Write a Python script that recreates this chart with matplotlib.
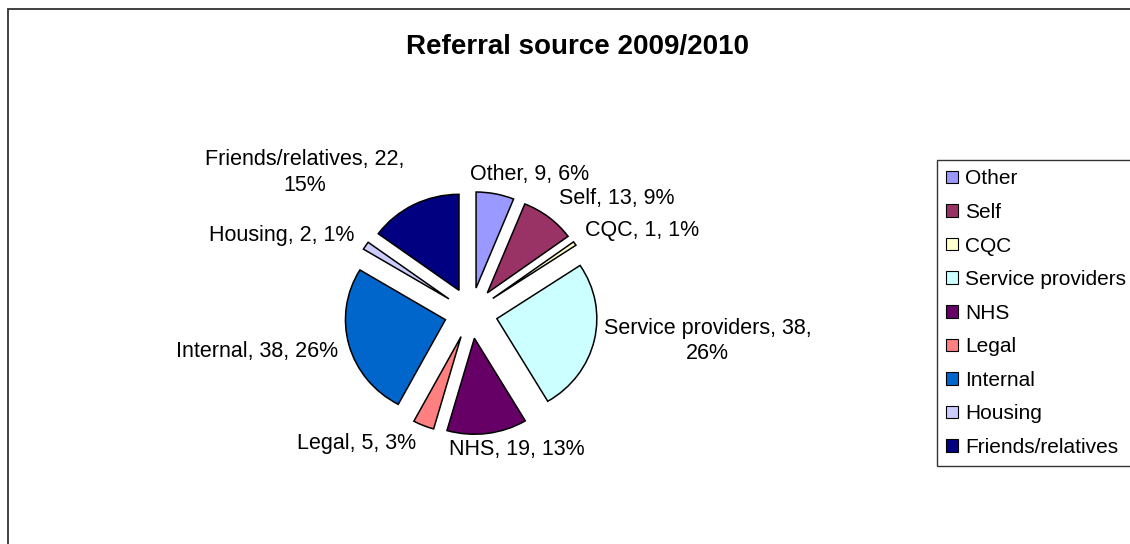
import matplotlib
matplotlib.use("Agg")
import matplotlib.pyplot as plt
from matplotlib.patches import Patch, Rectangle
import numpy as np

plt.rcParams['font.family'] = ['Liberation Sans', 'DejaVu Sans']

# Referral counts by source, in chart order (clockwise from 12 o'clock)
categories = ["Other", "Self", "CQC", "Service providers", "NHS",
              "Legal", "Internal", "Housing", "Friends/relatives"]
referrals = [9, 13, 1, 38, 19, 5, 38, 2, 22]
colours = ["#9999FF", "#993366", "#FFFFCC", "#CCFFFF", "#660066",
           "#FF8080", "#0066CC", "#CCCCFF", "#000080"]
title = "Referral source 2009/2010"

W, H = 1130, 544
fig = plt.figure(figsize=(W / 100, H / 100), dpi=100)

# chart-area border (runs off the right and bottom edges)
fig.patches.append(Rectangle((8 / W, -0.05), 1.1, (H - 9) / H + 0.05,
                             transform=fig.transFigure, fill=False,
                             edgecolor="#333333", linewidth=1.3))

# pie axes: centre and radii in pixels
cx, cy = 471, 231
rx, ry = 100, 96
half = 200
ax = fig.add_axes([(cx - half) / W, (cy - half) / H, 2 * half / W, 2 * half / H])
explode_amt = 0.265
wedges, _ = ax.pie(referrals, colors=colours, startangle=90, counterclock=False,
                   explode=[explode_amt] * len(referrals),
                   wedgeprops=dict(edgecolor="black", linewidth=1.1))
ax.set_aspect("auto")
ax.set_xlim(-half / rx, half / rx)
ax.set_ylim(-half / ry, half / ry)
ax.axis("off")

# data labels: "name, value, percent", nudged out from each slice's outer edge
total = sum(referrals)
label_offsets = [(34, 19), (68, 19), (67, 13), (113, -1), (30, -16),
                 (-67, -18), (-92, -6), (-84, 10), (-109, 32)]
for w, name, val, (dx, dy) in zip(wedges, categories, referrals, label_offsets):
    mid = np.deg2rad((w.theta1 + w.theta2) / 2)
    pct = f"{round(100 * val / total)}%"
    sep = ",\n" if len(name) > 12 else ", "
    text = f"{name}, {val}{sep}{pct}"
    r = 1 + explode_amt
    ax.annotate(text, xy=(r * np.cos(mid), r * np.sin(mid)), xytext=(dx, dy),
                textcoords="offset pixels", ha="center", va="center",
                multialignment="center", fontsize=15.5, linespacing=1.3,
                color="black", annotation_clip=False)

fig.text(577 / W, 1 - 47 / H, title, ha="center", va="center",
         fontsize=20, fontweight="bold")

handles = [Patch(facecolor=c, edgecolor="black", linewidth=0.8) for c in colours]
leg = fig.legend(handles, categories, loc="upper left",
                 bbox_to_anchor=(937 / W, 1 - 160 / H), fontsize=15,
                 frameon=True, fancybox=False, edgecolor="black",
                 handlelength=0.55, handleheight=0.55, handletextpad=0.35,
                 labelspacing=0.7, borderpad=0.45, borderaxespad=0)
leg.get_frame().set_linewidth(1.0)

fig.savefig("out.png", dpi=100)
